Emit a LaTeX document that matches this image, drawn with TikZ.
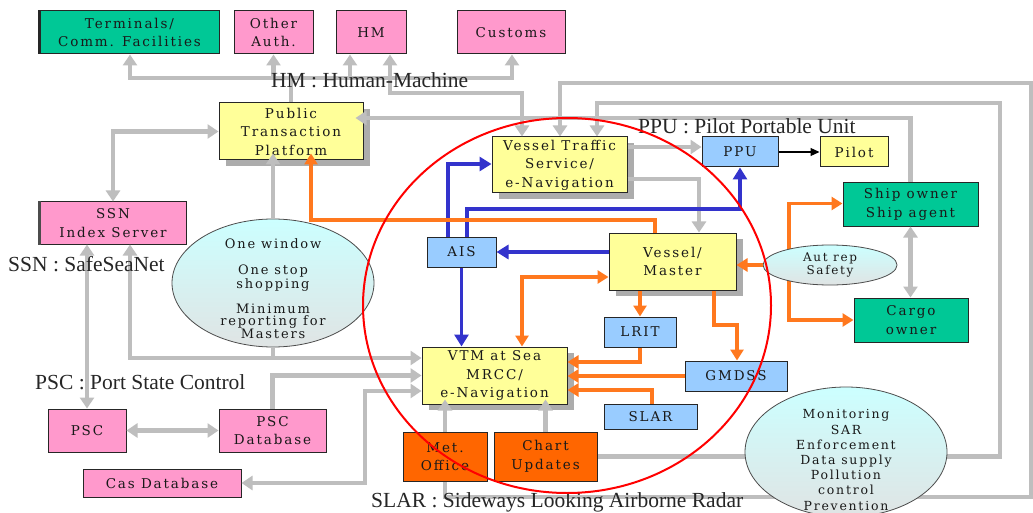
\documentclass[tikz,border=0pt]{standalone}
\usepackage{fontspec}
\setmainfont{DejaVu Serif}[LetterSpace=14]
\newfontfamily\annfont{Liberation Serif}
\usetikzlibrary{arrows.meta,shadows,backgrounds,shapes.geometric}
\definecolor{glc}{RGB}{190,190,190}
\definecolor{shc}{RGB}{172,172,172}
\definecolor{pinkc}{RGB}{255,153,204}
\definecolor{greenc}{RGB}{0,200,150}
\definecolor{yellowc}{RGB}{255,255,153}
\definecolor{bluec}{RGB}{153,204,255}
\definecolor{orangebox}{RGB}{255,102,0}
\definecolor{orangec}{RGB}{255,120,30}
\definecolor{bluearr}{RGB}{51,51,204}
\definecolor{cyantop}{RGB}{204,255,255}
\definecolor{graybot}{RGB}{224,228,228}
\definecolor{redc}{RGB}{255,0,0}
\begin{document}
\begin{tikzpicture}[x=1pt,y=-1pt,
 box/.style={draw=black!85,line width=1pt,inner sep=0pt,align=center,
   font=\fontsize{13.5}{18.5}\selectfont,text=black!90},
 shbox/.style={box,fill=yellowc,drop shadow={shadow xshift=7pt,shadow yshift=-6pt,fill=shc,opacity=1}},
 bubble/.style={ellipse,draw=black!70,line width=0.8pt,top color=cyantop,bottom color=graybot,inner sep=0pt},
 gl/.style={draw=glc,line width=4.5pt},
 garr/.style={gl,-{Triangle[length=11pt,width=14pt]}},
 garrb/.style={gl,{Triangle[length=11pt,width=14pt]}-{Triangle[length=11pt,width=14pt]}},
 oarr/.style={draw=orangec,line width=3.5pt,-{Triangle[length=11pt,width=13pt]}},
 oarrb/.style={draw=orangec,line width=3.5pt,{Triangle[length=11pt,width=13pt]}-{Triangle[length=11pt,width=13pt]}},
 barr/.style={draw=bluearr,line width=3.5pt,-{Triangle[length=12pt,width=14pt]}},
 ann/.style={font=\annfont\fontsize{21.5}{24}\selectfont,inner sep=0pt,anchor=base west,text=black!85}
]
\begin{pgfonlayer}{background}
\fill[white] (0,0) rectangle (1033,513);
\end{pgfonlayer}
\useasboundingbox (0,0) rectangle (1033,513);

% boxes
\node[box,fill=greenc,minimum width=179pt,minimum height=43pt] (term) at (129.5,32.5) {Terminals/\\Comm. Facilities};
\node[box,fill=pinkc,minimum width=79pt,minimum height=43pt] (oauth) at (273.5,32.5) {Other\\Auth.};
\node[box,fill=pinkc,minimum width=70pt,minimum height=43pt] (hm) at (371,32.5) {HM};
\node[box,fill=pinkc,minimum width=108pt,minimum height=43pt] (cust) at (511,32.5) {Customs};
\node[shbox,minimum width=144pt,minimum height=57pt] (ptp) at (291,131.5) {Public\\Transaction\\Platform};
\node[shbox,minimum width=135pt,minimum height=56pt] (vts) at (559.5,165) {Vessel Traffic\\Service/\\e-Navigation};
\node[box,fill=bluec,minimum width=76pt,minimum height=30pt] (ppu) at (740,152) {PPU};
\node[box,fill=yellowc,minimum width=68pt,minimum height=30pt] (pilot) at (854,152) {Pilot};
\node[box,fill=greenc,minimum width=135pt,minimum height=43pt] (ship) at (910.5,204.5) {Ship owner\\Ship agent};
\node[box,fill=greenc,minimum width=114pt,minimum height=44pt] (cargo) at (911,320) {Cargo\\owner};
\node[box,fill=pinkc,minimum width=146pt,minimum height=42pt] (ssn) at (113,223) {SSN\\Index Server};
\node[box,fill=bluec,minimum width=69pt,minimum height=30pt] (ais) at (461.5,252) {AIS};
\node[shbox,minimum width=127pt,minimum height=57pt] (vm) at (672.5,261.5) {Vessel/\\Master};
\node[box,fill=bluec,minimum width=72pt,minimum height=30pt] (lrit) at (640,332) {LRIT};
\node[shbox,minimum width=145pt,minimum height=57pt] (vtm) at (494.5,375.5) {VTM at Sea\\MRCC/\\e-Navigation};
\node[box,fill=bluec,minimum width=102pt,minimum height=30pt] (gmdss) at (736,376) {GMDSS};
\node[box,fill=bluec,minimum width=93pt,minimum height=25pt] (slar) at (650.5,416.5) {SLAR};
\node[box,fill=orangebox,minimum width=84pt,minimum height=49pt] (met) at (445,456.5) {Met.\\Office};
\node[box,fill=orangebox,minimum width=103pt,minimum height=49pt] (chart) at (545.5,456.5) {Chart\\Updates};
\node[box,fill=pinkc,minimum width=78pt,minimum height=43pt] (psc) at (87,430.5) {PSC};
\node[box,fill=pinkc,minimum width=107pt,minimum height=43pt] (pscdb) at (272.5,430.5) {PSC\\Database};
\node[box,fill=pinkc,minimum width=158pt,minimum height=28pt] (cas) at (162,483) {Cas Database};
\draw[line width=2.5pt,black!85] (term.north west) -- (term.south west);
\draw[line width=2.5pt,black!70] (ssn.north west) -- (ssn.south west);

% bubbles
\node[bubble,minimum width=202pt,minimum height=128pt] (ow) at (273,283) {};
\node[align=center,font=\fontsize{13}{12.5}\selectfont,text=black!90] (owtext) at (273,288.5) {One window\\[14pt]One stop\\shopping\\[12.5pt]Minimum\\reporting for\\Masters};
\node[bubble,minimum width=134pt,minimum height=40pt,font=\fontsize{12}{13}\selectfont,align=center,text=black!90] (aut) at (830,265) {Aut rep\\Safety};
\node[bubble,minimum width=202pt,minimum height=130pt] (mon) at (846,452) {};
\node[align=center,font=\fontsize{12.5}{15.2}\selectfont,text=black!90] (montext) at (846,460) {Monitoring\\SAR\\Enforcement\\Data supply\\Pollution\\control\\Prevention};

% connectors behind the bubbles
\begin{pgfonlayer}{background}
\coordinate (o1) at (445,497); \coordinate (o2) at (1031,497);
\coordinate (o3) at (1031,83); \coordinate (o4) at (560,83);
\draw[garr] (met.south) -- (o1) -- (o2) -- (o3) -- (o4) -- (o4 |- vts.north);
\coordinate (i1) at (1000,456.5); \coordinate (i2) at (1000,103); \coordinate (i3) at (597,103);
\draw[garr] (chart.east) -- (i1) -- (i2) -- (i3) -- (i3 |- vts.north);
\coordinate (r8) at (789,203.5); \coordinate (r9) at (789,320);
\draw[oarr] (aut.center -| r8) -- (r8) -- (ship.west |- r8);
\draw[oarr] (aut.center -| r8) -- (r9) -- (cargo.west |- r9);
\end{pgfonlayer}

% gray connectors
\coordinate (b1) at (130,78); \coordinate (b3) at (350,78); \coordinate (b4) at (512,78);
\draw[gl] (ptp.north) -- (ptp.north |- b1);
\draw[gl,line cap=rect] (b1) -- (b4);
\draw[garr] (b1) -- (b1 |- term.south);
\draw[garr] (oauth.south |- b1) -- (oauth.south);
\draw[garr] (b3) -- (b3 |- hm.south);
\draw[garr] (b4) -- (b4 |- cust.south);
\coordinate (h1) at (390,93); \coordinate (h2) at (522,93);
\draw[garrb] (h1 |- hm.south) -- (h1) -- (h2) -- (h2 |- vts.north);
\coordinate (s1) at (910.5,118);
\draw[garr,shorten >=-8pt] (ship.north) -- (s1) -- (ptp.east |- s1);
\coordinate (v1) at (627,147);
\draw[garr] (vts.east |- v1) -- (ppu.west |- v1);
\coordinate (v2) at (699,179);
\draw[garr] (vts.east |- v2) -- (v2) -- (v2 |- vm.north);
\draw[garrb] (ptp.west) -- (ssn.north |- ptp.west) -- (ssn.north);
\draw[garr,shorten >=-7pt] (ow.north) -- (ow.north |- ptp.south);
\draw[garrb] (psc.north) -- (psc.north |- ssn.south);
\coordinate (q1) at (130,358);
\draw[gl] (ow.south) -- (ow.south |- q1);
\draw[garrb] (q1 |- ssn.south) -- (q1) -- (vtm.west |- q1);
\draw[garr] (pscdb.north) -- (pscdb.north |- vtm.west) -- (vtm.west);
\coordinate (c1) at (365,391);
\draw[garrb] (cas.east) -- (cas.east -| c1) -- (c1) -- (vtm.west |- c1);
\draw[garrb] (psc.east) -- (pscdb.west);
\draw[garr,shorten >=-5pt] (met.north) -- (met.north |- vtm.south);
\draw[garr,shorten >=-5pt] (chart.north) -- (chart.north |- vtm.south);
\draw[garrb] (ship.south) -- (ship.south |- cargo.north);

% blue connectors
\coordinate (a1) at (448,164); \coordinate (a2) at (467,209); \coordinate (a3) at (740,209);
\draw[barr] (a1 |- ais.north) -- (a1) -- (vts.west |- a1);
\draw[barr] (a2 |- ais.north) -- (a2) -- (a3) -- (ppu.south);
\draw[barr] (vm.west |- ais.east) -- (ais.east);
\draw[barr] (ais.south) -- (ais.south |- vtm.north);

% orange connectors
\coordinate (r1) at (655,220); \coordinate (r2) at (311,220);
\draw[oarr,shorten >=-7pt] (r1 |- vm.north) -- (r1) -- (r2) -- (r2 |- ptp.south);
\coordinate (r3) at (522,277);
\draw[oarrb] (r3 |- vtm.north) -- (r3) -- (vm.west |- r3);
\draw[oarr] (lrit.north |- vm.south) -- (lrit.north);
\coordinate (r4) at (714,325); \coordinate (r5) at (737,325);
\draw[oarr] (r4 |- vm.south) -- (r4) -- (r5) -- (r5 |- gmdss.north);
\coordinate (r6) at (640,362);
\draw[oarr] (lrit.south) -- (r6) -- (vtm.east |- r6);
\draw[oarr] (gmdss.west) -- (vtm.east |- gmdss.west);
\coordinate (r7) at (652,390);
\draw[oarr] (r7 |- slar.north) -- (r7) -- (vtm.east |- r7);
\draw[oarr] (aut.west) -- (vm.east |- aut.west);

% black connector
\draw[line width=1.2pt,-{Triangle[length=9pt,width=8pt]}] (ppu.east) -- (pilot.west);

% annotations
\node[ann] (annhm) at (271,88) {HM : Human-Machine};
\node[ann] (annppu) at (638,134) {PPU : Pilot Portable Unit};
\node[ann] (annssn) at (8,271) {SSN : SafeSeaNet};
\node[ann] (annpsc) at (35,389) {PSC : Port State Control};
\node[ann] (annslar) at (371,507) {SLAR : Sideways Looking Airborne Radar};

% red ellipse
\draw[redc,line width=2pt] (567,305.5) ellipse [x radius=204, y radius=187.5];
\end{tikzpicture}
\end{document}
